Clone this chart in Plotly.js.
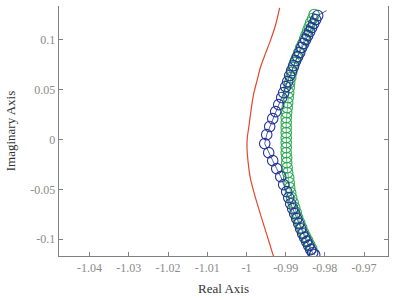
<!DOCTYPE html>
<html>
<head>
<meta charset="utf-8">
<script src="https://cdn.plot.ly/plotly-3.0.1.min.js"></script>
<style>
  html, body { margin: 0; padding: 0; background: #fff; }
  #chart { width: 398px; height: 300px; }
</style>
</head>
<body>
<div id="chart"></div>
<script>
// Continuous locus (red)
const redRe = [-0.99152, -0.99261, -0.99389, -0.99516, -0.99643, -0.99730, -0.99814, -0.99873, -0.99941,
  -0.99978, -0.99985, -0.99959, -0.99898, -0.99814, -0.99687, -0.99585, -0.99475, -0.99348, -0.99304];
const redIm = [0.1322, 0.1145, 0.0994, 0.0863, 0.0726, 0.0592, 0.0462, 0.0324, 0.0123,
  0.0020, -0.0090, -0.0221, -0.0392, -0.0522, -0.0693, -0.0823, -0.0961, -0.1124, -0.1175];

// Blue poles
const blueRe = [-0.98183, -0.98234, -0.98285, -0.98336, -0.98387, -0.98438, -0.98489, -0.98540, -0.98591,
  -0.98642, -0.98693, -0.98744, -0.98795, -0.98846, -0.98897, -0.98948, -0.98999, -0.99050, -0.99101,
  -0.99177, -0.99254, -0.99330, -0.99407, -0.99483, -0.99534,
  -0.99432, -0.99330, -0.99228, -0.99126, -0.99050, -0.98973, -0.98922, -0.98871, -0.98820, -0.98769,
  -0.98718, -0.98667, -0.98617, -0.98566, -0.98515, -0.98464, -0.98413, -0.98362, -0.98311, -0.98260];
const blueIm = [0.1245, 0.1205, 0.1165, 0.1124, 0.1084, 0.1044, 0.1004, 0.0964, 0.0924,
  0.0873, 0.0833, 0.0793, 0.0743, 0.0693, 0.0643, 0.0582, 0.0532, 0.0472, 0.0422,
  0.0351, 0.0281, 0.0211, 0.0131, 0.0050, -0.0040,
  -0.0131, -0.0211, -0.0291, -0.0371, -0.0452, -0.0522, -0.0582, -0.0643, -0.0693, -0.0743,
  -0.0793, -0.0843, -0.0894, -0.0944, -0.0984, -0.1024, -0.1064, -0.1104, -0.1135, -0.1155];
// end of the thin blue path beyond the last pole
const blueTailRe = [-0.97954];
const blueTailIm = [0.1295];

// Green poles
const greenRe = [-0.98273, -0.98311, -0.98362, -0.98400, -0.98438, -0.98476, -0.98515, -0.98566, -0.98617,
  -0.98668, -0.98718, -0.98769, -0.98808, -0.98846, -0.98871, -0.98897, -0.98910, -0.98922, -0.98935,
  -0.98948, -0.98961, -0.98973, -0.98986, -0.98986, -0.98986, -0.98986, -0.98986,
  -0.98986, -0.98986, -0.98986, -0.98973, -0.98973, -0.98961, -0.98948, -0.98922, -0.98910, -0.98897,
  -0.98871, -0.98846, -0.98808, -0.98769, -0.98731, -0.98693, -0.98642, -0.98591, -0.98540, -0.98489,
  -0.98438, -0.98387, -0.98336];
const greenIm = [0.1255, 0.1215, 0.1175, 0.1135, 0.1094, 0.1054, 0.1014, 0.0964, 0.0924,
  0.0873, 0.0823, 0.0773, 0.0723, 0.0673, 0.0622, 0.0572, 0.0522, 0.0472, 0.0422,
  0.0371, 0.0321, 0.0271, 0.0221, 0.0171, 0.0120, 0.0070, 0.0020,
  -0.0030, -0.0080, -0.0131, -0.0181, -0.0231, -0.0281, -0.0331, -0.0382, -0.0432, -0.0482,
  -0.0532, -0.0582, -0.0633, -0.0683, -0.0733, -0.0783, -0.0833, -0.0884, -0.0934, -0.0974,
  -0.1014, -0.1054, -0.1094];

// Axis ticks
const xTickVals = [-1.04, -1.03, -1.02, -1.01, -1, -0.99, -0.98, -0.97];
const xTickText = ['-1.04', '-1.03', '-1.02', '-1.01', '-1', '-0.99', '-0.98', '-0.97'];
const yTickVals = [-0.1, -0.05, 0, 0.05, 0.1];
const yTickText = ['-0.1', '-0.05', '0', '0.05', '0.1'];

const BLUE = 'rgb(38,52,150)';
const GREEN = 'rgb(44,170,84)';
const RED = 'rgb(226,72,44)';

const traces = [
  {
    x: redRe, y: redIm, type: 'scatter', mode: 'lines',
    line: { color: RED, width: 1.2, shape: 'spline', smoothing: 0.6 }, hoverinfo: 'skip'
  },
  {
    x: greenRe, y: greenIm, type: 'scatter', mode: 'lines+markers',
    line: { color: GREEN, width: 0.8 },
    marker: { symbol: 'circle-open', size: 10.5, color: GREEN, line: { width: 1.1, color: GREEN } }
  },
  {
    x: blueTailRe.concat(blueRe), y: blueTailIm.concat(blueIm), type: 'scatter', mode: 'lines',
    line: { color: BLUE, width: 0.8 }, hoverinfo: 'skip'
  },
  {
    x: blueRe, y: blueIm, type: 'scatter', mode: 'markers',
    marker: { symbol: 'circle-open', size: 10.5, color: BLUE, line: { width: 1.1, color: BLUE } }
  }
];

const tickFont = { family: 'Liberation Serif, Times New Roman, serif', size: 12, color: '#8a8a8a' };
const titleFont = { family: 'Liberation Serif, Times New Roman, serif', size: 13, color: '#333333' };

const layout = {
  width: 398, height: 300,
  margin: { l: 59, r: 10, t: 6, b: 44 },
  paper_bgcolor: '#ffffff', plot_bgcolor: '#ffffff',
  showlegend: false,
  xaxis: {
    range: [-1.0478, -0.9639],
    tickvals: xTickVals, ticktext: xTickText,
    ticks: 'inside', ticklen: 4, tickcolor: '#808080', tickwidth: 1,
    showline: true, linecolor: '#808080', linewidth: 1.3,
    showgrid: false, zeroline: false, mirror: false,
    tickfont: tickFont,
    title: { text: 'Real Axis', font: titleFont, standoff: 10 },
    automargin: false
  },
  yaxis: {
    range: [-0.1168, 0.1341],
    tickvals: yTickVals, ticktext: yTickText,
    ticks: 'inside', ticklen: 4, tickcolor: '#808080', tickwidth: 1,
    showline: true, linecolor: '#808080', linewidth: 1.3,
    showgrid: false, zeroline: false, mirror: 'ticks',
    tickfont: tickFont,
    title: { text: 'Imaginary Axis', font: titleFont, standoff: 11 },
    automargin: false
  }
};

Plotly.newPlot('chart', traces, layout, { displayModeBar: false, staticPlot: true });
</script>
</body>
</html>
